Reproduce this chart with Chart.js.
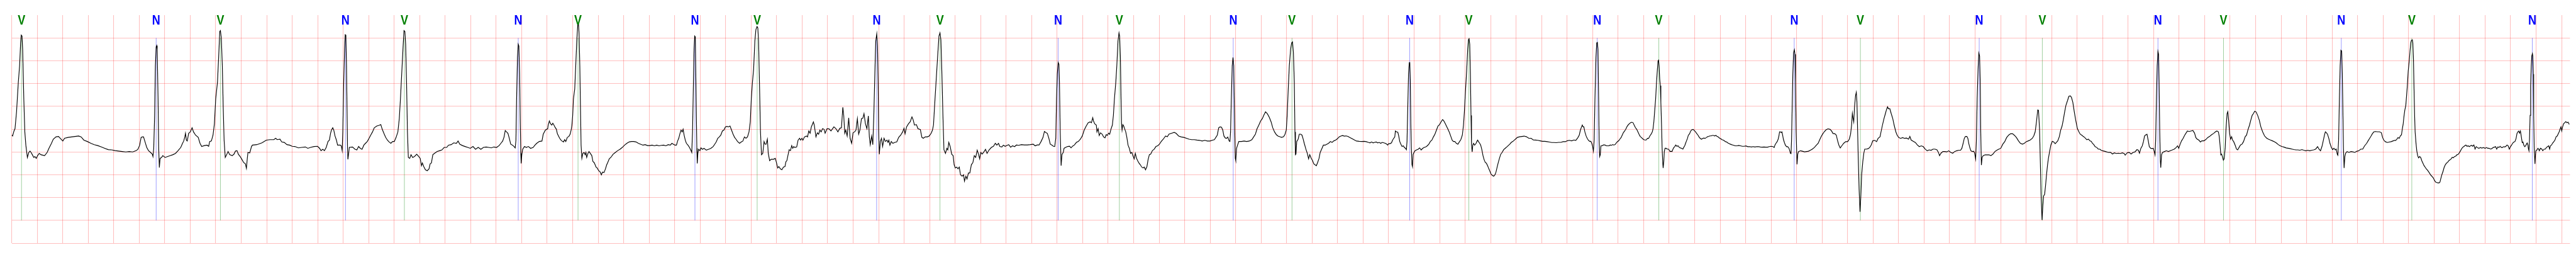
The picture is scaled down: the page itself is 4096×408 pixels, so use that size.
<!DOCTYPE html>
<html>
<head>
<meta charset="utf-8">
<script src="https://cdn.jsdelivr.net/npm/chart.js@4/dist/chart.umd.min.js"></script>
<style>
html,body{margin:0;padding:0;background:#fff;}
#wrap{width:4096px;height:408px;position:relative;}
</style>
</head>
<body>
<div id="wrap"><canvas id="c"></canvas></div>
<script>
// ECG trace, time (s) / amplitude pairs, per segment
const seg00 = [[0.000,-0.13],[0.007,-0.15],[0.018,-0.04],[0.026,0.01],[0.038,0.38],[0.052,1.03],[0.062,1.39],[0.070,1.89],[0.075,2.06],[0.081,2.04],[0.086,1.75],[0.095,0.66],[0.103,-0.06],[0.111,-0.35],[0.123,-0.62],[0.134,-0.51],[0.144,-0.48],[0.152,-0.51],[0.162,-0.56],[0.173,-0.62],[0.182,-0.60],[0.193,-0.64],[0.203,-0.58],[0.216,-0.53],[0.230,-0.56],[0.258,-0.58],[0.278,-0.51],[0.292,-0.42],[0.312,-0.31],[0.326,-0.22],[0.347,-0.17],[0.367,-0.16],[0.381,-0.20],[0.401,-0.26],[0.415,-0.20],[0.442,-0.18],[0.470,-0.17],[0.497,-0.16],[0.525,-0.15],[0.545,-0.17],[0.566,-0.24],[0.593,-0.27],[0.621,-0.31],[0.648,-0.34],[0.675,-0.36],[0.703,-0.39],[0.730,-0.42],[0.758,-0.45],[0.785,-0.455],[0.812,-0.47],[0.840,-0.48],[0.867,-0.49],[0.895,-0.50],[0.922,-0.49],[0.949,-0.50],[0.977,-0.47],[0.990,-0.44],[1.004,-0.35],[1.015,-0.18],[1.025,-0.17],[1.034,-0.17],[1.045,-0.27],[1.059,-0.40],[1.073,-0.47],[1.089,-0.51],[1.103,-0.55],[1.108,-0.60],[1.114,-0.42],[1.121,0.30],[1.127,1.39],[1.133,1.80],[1.137,1.83],[1.141,1.75],[1.148,0.66],[1.153,-0.42],[1.158,-0.84],[1.164,-0.64],[1.175,-0.62],[1.185,-0.58],[1.203,-0.62],[1.223,-0.60],[1.244,-0.58],[1.264,-0.56],[1.285,-0.53],[1.305,-0.47],[1.326,-0.40],[1.340,-0.31],[1.349,-0.26],[1.358,-0.17],[1.363,-0.09],[1.370,-0.24],[1.377,-0.26],[1.388,-0.09],[1.401,-0.06],[1.415,0.03],[1.426,-0.06],[1.442,-0.13],[1.463,-0.18],[1.477,-0.31],[1.490,-0.38],[1.511,-0.36],[1.532,-0.35],[1.545,-0.375],[1.553,-0.27],[1.566,-0.26],[1.579,-0.13],[1.590,0.12],[1.600,0.66],[1.614,1.03],[1.623,1.57],[1.632,2.14],[1.637,2.16],[1.644,2.00],[1.652,1.39],[1.659,0.48],[1.666,-0.24],[1.675,-0.62],[1.686,-0.56],[1.697,-0.49],[1.710,-0.56],[1.730,-0.58],[1.744,-0.545],[1.755,-0.48],[1.767,-0.47],[1.778,-0.55],[1.792,-0.60],[1.805,-0.66],[1.819,-0.73],[1.833,-0.76],[1.841,-0.86],[1.848,-0.64],[1.853,-0.51],[1.867,-0.52],[1.881,-0.38],[1.888,-0.35],[1.922,-0.34],[1.963,-0.30],[1.997,-0.24],[2.025,-0.23],[2.056,-0.23]];
const seg02 = [[2.070,-0.20],[2.083,-0.23],[2.104,-0.22],[2.118,-0.28],[2.138,-0.29],[2.159,-0.34],[2.180,-0.35],[2.200,-0.375],[2.221,-0.38],[2.248,-0.41],[2.275,-0.40],[2.303,-0.39],[2.323,-0.42],[2.344,-0.40],[2.371,-0.38],[2.399,-0.375],[2.415,-0.42],[2.426,-0.47],[2.440,-0.44],[2.453,-0.47],[2.467,-0.40],[2.481,-0.27],[2.492,-0.24],[2.501,-0.09],[2.508,-0.02],[2.518,0.03],[2.526,-0.02],[2.536,-0.15],[2.547,-0.24],[2.556,-0.35],[2.566,-0.35],[2.577,-0.35],[2.585,-0.365],[2.592,-0.47],[2.597,-0.06],[2.604,1.03],[2.611,1.75],[2.616,2.07],[2.621,2.06],[2.626,1.39],[2.630,0.48],[2.634,-0.42],[2.637,-0.66],[2.643,-0.53],[2.648,-0.40],[2.673,-0.39],[2.693,-0.44],[2.707,-0.455],[2.721,-0.38],[2.734,-0.42],[2.748,-0.44],[2.762,-0.35],[2.775,-0.31],[2.789,-0.27],[2.803,-0.20],[2.816,-0.13],[2.830,-0.06],[2.844,0.03],[2.864,0.07],[2.878,0.08],[2.895,0.10],[2.906,0.0],[2.919,-0.09],[2.933,-0.18],[2.947,-0.24],[2.960,-0.28],[2.974,-0.31],[2.988,-0.27],[3.001,-0.27],[3.015,-0.18],[3.029,-0.06],[3.040,0.23],[3.049,0.66],[3.059,1.21],[3.070,1.82],[3.077,2.16],[3.084,2.14],[3.090,1.86],[3.097,1.03],[3.104,-0.06],[3.111,-0.62],[3.122,-0.64],[3.132,-0.56],[3.145,-0.62],[3.159,-0.60],[3.177,-0.55],[3.193,-0.60],[3.204,-0.64],[3.214,-0.80],[3.221,-0.74],[3.232,-0.82],[3.245,-0.89],[3.259,-0.91],[3.273,-0.87],[3.282,-0.76],[3.292,-0.74],[3.303,-0.56],[3.316,-0.53],[3.337,-0.49],[3.358,-0.47],[3.374,-0.455],[3.392,-0.40],[3.412,-0.40],[3.426,-0.35],[3.447,-0.34],[3.467,-0.30],[3.488,-0.31],[3.501,-0.26],[3.515,-0.33],[3.536,-0.36],[3.556,-0.38],[3.577,-0.40],[3.597,-0.42],[3.618,-0.38],[3.638,-0.44],[3.659,-0.40],[3.680,-0.44],[3.700,-0.40],[3.721,-0.39],[3.741,-0.40],[3.762,-0.41],[3.782,-0.39],[3.803,-0.40],[3.823,-0.36],[3.837,-0.31],[3.851,-0.26],[3.862,-0.17],[3.871,-0.03],[3.881,-0.06],[3.892,-0.09],[3.903,-0.20],[3.914,-0.33],[3.928,-0.35],[3.940,-0.38],[3.949,-0.41],[3.955,-0.24],[3.960,0.66],[3.967,1.57],[3.973,1.86],[3.978,1.82],[3.984,1.21],[3.989,0.12],[3.993,-0.53],[3.996,-0.75],[4.001,-0.56],[4.008,-0.44],[4.022,-0.38],[4.036,-0.40],[4.053,-0.38],[4.070,-0.42],[4.090,-0.40],[4.104,-0.35],[4.118,-0.31],[4.138,-0.27],[4.159,-0.26],[4.169,-0.11],[4.186,-0.02],[4.204,0.01]];
const seg04 = [[4.208,0.09],[4.217,0.18],[4.226,0.12],[4.236,0.09],[4.244,0.13],[4.253,0.09],[4.262,0.04],[4.272,0.0],[4.280,-0.10],[4.289,-0.15],[4.298,-0.20],[4.308,-0.24],[4.316,-0.26],[4.328,-0.28],[4.337,-0.23],[4.346,-0.27],[4.358,-0.18],[4.370,-0.16],[4.380,-0.11],[4.388,-0.02],[4.394,0.09],[4.400,0.30],[4.406,0.66],[4.416,0.88],[4.424,1.39],[4.432,1.93],[4.440,2.29],[4.446,2.29],[4.450,2.11],[4.456,1.39],[4.461,0.48],[4.466,-0.35],[4.472,-0.64],[4.480,-0.53],[4.490,-0.51],[4.498,-0.56],[4.504,-0.51],[4.510,-0.62],[4.520,-0.53],[4.528,-0.49],[4.538,-0.53],[4.550,-0.58],[4.559,-0.71],[4.568,-0.73],[4.576,-0.78],[4.583,-0.83],[4.592,-0.85],[4.604,-0.91],[4.616,-0.94],[4.625,-1.00],[4.634,-0.94],[4.646,-0.95],[4.657,-0.87],[4.667,-0.78],[4.675,-0.73],[4.687,-0.65],[4.699,-0.62],[4.717,-0.55],[4.735,-0.51],[4.753,-0.47],[4.771,-0.44],[4.789,-0.40],[4.807,-0.35],[4.825,-0.31],[4.843,-0.28],[4.861,-0.27],[4.879,-0.27],[4.897,-0.28],[4.915,-0.31],[4.933,-0.33],[4.951,-0.35],[4.969,-0.34],[4.987,-0.36],[5.005,-0.36],[5.023,-0.35],[5.041,-0.365],[5.059,-0.35],[5.077,-0.365],[5.095,-0.355],[5.113,-0.35],[5.131,-0.365],[5.149,-0.34],[5.166,-0.35],[5.178,-0.31],[5.190,-0.33],[5.202,-0.35],[5.214,-0.35],[5.223,-0.26],[5.232,-0.20],[5.242,-0.09],[5.250,-0.02],[5.259,-0.06],[5.266,0.0],[5.274,-0.13],[5.283,-0.24],[5.292,-0.31],[5.304,-0.35],[5.316,-0.40],[5.328,-0.47],[5.334,-0.51],[5.340,-0.06],[5.346,0.85],[5.352,1.75],[5.357,2.04],[5.362,2.02],[5.365,1.39],[5.370,0.30],[5.374,-0.42],[5.377,-0.75],[5.382,-0.53],[5.388,-0.44],[5.398,-0.47],[5.406,-0.41],[5.418,-0.44],[5.430,-0.42],[5.448,-0.46],[5.466,-0.44],[5.484,-0.42],[5.502,-0.38],[5.514,-0.33],[5.526,-0.28],[5.538,-0.20],[5.550,-0.17],[5.562,-0.13],[5.574,-0.04],[5.586,-0.02],[5.598,0.05],[5.610,0.06],[5.622,0.05],[5.634,0.07],[5.646,-0.02],[5.658,-0.11],[5.670,-0.18],[5.681,-0.22],[5.693,-0.27],[5.709,-0.31],[5.723,-0.28],[5.735,-0.26],[5.747,-0.17],[5.759,-0.20],[5.771,-0.17],[5.783,-0.06],[5.793,0.16],[5.801,0.66],[5.810,1.03],[5.819,1.31],[5.829,1.93],[5.837,2.18],[5.846,2.25],[5.852,2.22],[5.858,1.93],[5.865,1.03],[5.873,-0.06],[5.881,-0.56],[5.891,-0.53],[5.901,-0.27],[5.909,-0.33],[5.917,-0.33],[5.927,-0.22],[5.934,-0.53],[5.945,-0.69],[5.957,-0.66],[5.975,-0.66],[5.989,-0.64],[5.999,-0.74],[6.008,-0.85],[6.017,-0.82],[6.029,-0.87],[6.041,-0.89],[6.053,-0.83],[6.065,-0.82],[6.073,-0.71],[6.080,-0.69]];
const seg06 = [[6.088,-0.58],[6.098,-0.45],[6.108,-0.47],[6.118,-0.36],[6.126,-0.42],[6.134,-0.38],[6.141,-0.40],[6.157,-0.39],[6.168,-0.24],[6.180,-0.20],[6.188,-0.24],[6.198,-0.20],[6.206,-0.24],[6.218,-0.17],[6.234,-0.15],[6.242,-0.17],[6.252,-0.04],[6.262,-0.09],[6.272,0.05],[6.288,0.16],[6.295,0.09],[6.308,-0.17],[6.319,-0.08],[6.329,-0.11],[6.339,-0.02],[6.349,-0.06],[6.360,0.01],[6.372,-0.004],[6.380,-0.09],[6.395,0.01],[6.411,0.007],[6.426,-0.04],[6.449,0.05],[6.465,0.01],[6.480,-0.06],[6.496,0.02],[6.508,0.03],[6.519,0.48],[6.526,0.30],[6.534,-0.09],[6.542,-0.02],[6.553,-0.15],[6.565,0.25],[6.576,-0.20],[6.588,-0.31],[6.599,-0.08],[6.611,-0.06],[6.622,-0.02],[6.633,0.23],[6.643,-0.11],[6.653,-0.02],[6.665,0.23],[6.676,0.24],[6.685,0.34],[6.696,0.12],[6.708,0.01],[6.719,0.29],[6.727,-0.17],[6.734,-0.34],[6.745,-0.15],[6.754,-0.34],[6.762,0.30],[6.770,1.21],[6.777,1.93],[6.785,2.09],[6.791,1.82],[6.796,1.03],[6.800,-0.06],[6.805,-0.55],[6.813,-0.27],[6.822,-0.20],[6.831,-0.38],[6.842,-0.20],[6.853,-0.27],[6.865,-0.24],[6.873,-0.29],[6.880,-0.24],[6.888,-0.35],[6.899,-0.27],[6.911,-0.31],[6.927,-0.29],[6.942,-0.28],[6.957,-0.18],[6.973,-0.13],[6.988,-0.06],[6.999,0.02],[7.007,-0.10],[7.019,0.05],[7.034,0.12],[7.047,0.16],[7.061,0.27],[7.070,0.21],[7.081,0.09],[7.096,0.10],[7.108,0.01],[7.127,-0.01],[7.139,-0.18],[7.150,-0.20],[7.165,-0.17],[7.181,-0.17],[7.196,-0.15],[7.212,-0.09],[7.222,-0.02],[7.230,0.09],[7.238,0.48],[7.250,1.03],[7.262,1.57],[7.273,2.04],[7.281,2.11],[7.288,1.96],[7.296,1.21],[7.304,0.30],[7.312,-0.45],[7.324,-0.53],[7.335,-0.42],[7.342,-0.455],[7.350,-0.29],[7.361,-0.38],[7.373,-0.55],[7.384,-0.58],[7.392,-0.78],[7.401,-0.85],[7.412,-0.83],[7.422,-0.87],[7.432,-0.83],[7.442,-1.00],[7.455,-1.03],[7.466,-1.00],[7.473,-1.14],[7.484,-1.03],[7.493,-1.09],[7.504,-0.96],[7.515,-0.96],[7.527,-0.78],[7.539,-0.73],[7.550,-0.58],[7.561,-0.62],[7.573,-0.46],[7.583,-0.545],[7.592,-0.65],[7.601,-0.51],[7.612,-0.545],[7.627,-0.49],[7.638,-0.44],[7.650,-0.53],[7.666,-0.455],[7.684,-0.40],[7.700,-0.375],[7.715,-0.31],[7.727,-0.35],[7.740,-0.31],[7.750,-0.38],[7.766,-0.39],[7.778,-0.35],[7.792,-0.375],[7.807,-0.355],[7.820,-0.34],[7.835,-0.394],[7.850,-0.365],[7.866,-0.383],[7.881,-0.347],[7.897,-0.354],[7.920,-0.34],[7.943,-0.347],[7.966,-0.347],[7.989,-0.34],[8.012,-0.33],[8.028,-0.365],[8.043,-0.347],[8.058,-0.347],[8.074,-0.27],[8.089,-0.18],[8.100,-0.05],[8.112,-0.076],[8.123,-0.094],[8.135,-0.20],[8.146,-0.33],[8.158,-0.347],[8.171,-0.375],[8.181,-0.38],[8.189,-0.20],[8.195,0.66],[8.201,1.21],[8.208,1.46],[8.214,1.42],[8.218,1.03],[8.224,-0.06],[8.231,-0.80],[8.238,-0.55],[8.248,-0.51],[8.254,-0.42],[8.266,-0.40],[8.282,-0.38],[8.297,-0.375],[8.309,-0.41],[8.320,-0.375],[8.335,-0.347],[8.351,-0.29],[8.366,-0.27],[8.382,-0.22],[8.397,-0.15],[8.412,-0.02],[8.428,0.07],[8.443,0.14],[8.459,0.16],[8.469,0.14],[8.479,0.25],[8.485,0.18],[8.494,0.12]];
const seg08 = [[8.507,0.09],[8.512,-0.06],[8.521,0.01],[8.530,-0.14],[8.540,-0.08],[8.553,-0.11],[8.564,-0.17],[8.575,-0.19],[8.585,-0.12],[8.594,-0.137],[8.603,-0.087],[8.612,-0.112],[8.622,0.0],[8.633,0.09],[8.641,0.30],[8.649,0.66],[8.660,1.03],[8.668,1.39],[8.677,1.93],[8.685,2.11],[8.690,2.04],[8.696,1.57],[8.701,0.66],[8.705,0.12],[8.709,-0.02],[8.715,0.10],[8.722,0.07],[8.729,0.01],[8.738,-0.06],[8.746,-0.17],[8.756,-0.35],[8.766,-0.42],[8.776,-0.53],[8.786,-0.51],[8.794,-0.58],[8.804,-0.65],[8.813,-0.53],[8.822,-0.635],[8.831,-0.69],[8.841,-0.74],[8.852,-0.78],[8.863,-0.83],[8.874,-0.85],[8.883,-0.83],[8.893,-0.89],[8.904,-0.82],[8.913,-0.67],[8.923,-0.56],[8.934,-0.545],[8.947,-0.47],[8.961,-0.44],[8.975,-0.38],[8.988,-0.365],[9.002,-0.33],[9.016,-0.27],[9.032,-0.22],[9.050,-0.15],[9.064,-0.166],[9.077,-0.11],[9.098,-0.09],[9.118,-0.07],[9.132,-0.09],[9.153,-0.15],[9.173,-0.17],[9.194,-0.18],[9.214,-0.20],[9.235,-0.22],[9.255,-0.23],[9.276,-0.23],[9.296,-0.24],[9.317,-0.245],[9.337,-0.26],[9.358,-0.245],[9.378,-0.26],[9.399,-0.26],[9.419,-0.24],[9.433,-0.23],[9.447,-0.17],[9.456,-0.13],[9.467,0.03],[9.478,0.05],[9.489,0.043],[9.499,-0.02],[9.508,-0.15],[9.519,-0.195],[9.529,-0.20],[9.538,-0.173],[9.549,-0.26],[9.555,-0.27],[9.560,-0.06],[9.566,0.66],[9.573,1.39],[9.579,1.57],[9.585,1.39],[9.589,0.66],[9.593,-0.06],[9.597,-0.64],[9.601,-0.69],[9.607,-0.42],[9.615,-0.35],[9.625,-0.27],[9.645,-0.27],[9.666,-0.26],[9.686,-0.27],[9.707,-0.26],[9.727,-0.23],[9.741,-0.17],[9.755,-0.11],[9.768,0.01],[9.782,0.09],[9.796,0.18],[9.809,0.23],[9.820,0.30],[9.834,0.38],[9.848,0.34],[9.864,0.26],[9.878,0.16],[9.891,0.03],[9.905,-0.06],[9.919,-0.12],[9.932,-0.15],[9.946,-0.166],[9.960,-0.18],[9.976,-0.166],[9.987,-0.112],[9.997,-0.02],[10.004,0.30],[10.012,0.85],[10.021,1.39],[10.031,1.75],[10.039,1.89],[10.046,1.91],[10.053,1.68],[10.060,1.03],[10.065,-0.06],[10.069,-0.56],[10.073,-0.545],[10.079,-0.27],[10.090,-0.22],[10.099,-0.11],[10.110,-0.11],[10.120,-0.13],[10.128,-0.20],[10.138,-0.31],[10.151,-0.44],[10.162,-0.53],[10.172,-0.65],[10.181,-0.56],[10.192,-0.635],[10.203,-0.69],[10.213,-0.76],[10.222,-0.78],[10.233,-0.80],[10.243,-0.73],[10.254,-0.64],[10.263,-0.51],[10.274,-0.44],[10.288,-0.35],[10.302,-0.35],[10.315,-0.33],[10.329,-0.31],[10.343,-0.27],[10.356,-0.29],[10.370,-0.256],[10.384,-0.24],[10.398,-0.21],[10.411,-0.17],[10.425,-0.15],[10.439,-0.14],[10.452,-0.152],[10.466,-0.148],[10.480,-0.159],[10.493,-0.18],[10.507,-0.20],[10.521,-0.22],[10.534,-0.24],[10.548,-0.26],[10.569,-0.267],[10.589,-0.27],[10.610,-0.267],[10.623,-0.274],[10.641,-0.29]];
const seg10 = [[10.654,-0.30],[10.666,-0.28],[10.678,-0.30],[10.690,-0.29],[10.702,-0.28],[10.714,-0.30],[10.726,-0.29],[10.738,-0.31],[10.750,-0.29],[10.762,-0.30],[10.774,-0.31],[10.786,-0.33],[10.792,-0.35],[10.800,-0.318],[10.810,-0.318],[10.822,-0.30],[10.831,-0.24],[10.840,-0.20],[10.848,-0.17],[10.853,-0.04],[10.860,-0.058],[10.872,-0.069],[10.879,-0.15],[10.887,-0.27],[10.896,-0.33],[10.905,-0.38],[10.915,-0.365],[10.923,-0.40],[10.932,-0.42],[10.939,-0.45],[10.944,-0.27],[10.950,0.48],[10.956,1.21],[10.962,1.46],[10.966,1.46],[10.970,1.03],[10.974,0.12],[10.978,-0.42],[10.983,-0.78],[10.987,-0.82],[10.992,-0.55],[10.999,-0.51],[11.007,-0.47],[11.019,-0.455],[11.031,-0.44],[11.043,-0.41],[11.055,-0.455],[11.067,-0.42],[11.079,-0.40],[11.091,-0.39],[11.103,-0.365],[11.115,-0.33],[11.127,-0.27],[11.139,-0.24],[11.151,-0.17],[11.163,-0.11],[11.175,-0.02],[11.187,0.07],[11.199,0.10],[11.211,0.16],[11.223,0.21],[11.231,0.188],[11.241,0.14],[11.253,0.07],[11.265,0.0],[11.277,-0.076],[11.289,-0.17],[11.298,-0.24],[11.308,-0.27],[11.319,-0.27],[11.331,-0.31],[11.343,-0.33],[11.354,-0.28],[11.366,-0.23],[11.378,-0.13],[11.387,0.09],[11.394,0.38],[11.402,0.81],[11.412,1.28],[11.420,1.75],[11.426,1.96],[11.431,1.98],[11.436,1.86],[11.441,1.21],[11.446,0.30],[11.450,-0.35],[11.455,-0.50],[11.460,-0.35],[11.466,-0.31],[11.474,-0.35],[11.486,-0.31],[11.492,-0.27],[11.498,-0.24],[11.504,-0.27],[11.514,-0.31],[11.522,-0.35],[11.531,-0.45],[11.540,-0.58],[11.549,-0.67],[11.558,-0.73],[11.566,-0.744],[11.576,-0.80],[11.586,-0.87],[11.594,-0.92],[11.602,-0.98],[11.612,-1.01],[11.624,-1.03],[11.634,-1.00],[11.642,-0.94],[11.652,-0.82],[11.660,-0.73],[11.669,-0.64],[11.679,-0.55],[11.690,-0.51],[11.702,-0.45],[11.714,-0.42],[11.726,-0.39],[11.738,-0.36],[11.750,-0.33],[11.762,-0.29],[11.774,-0.27],[11.786,-0.24],[11.798,-0.21],[11.810,-0.18],[11.828,-0.166],[11.846,-0.159],[11.863,-0.152],[11.881,-0.166],[11.899,-0.20],[11.917,-0.20],[11.935,-0.238],[11.953,-0.24],[11.971,-0.245],[11.989,-0.256],[12.007,-0.267],[12.025,-0.267],[12.043,-0.274],[12.061,-0.282],[12.079,-0.292],[12.097,-0.292],[12.115,-0.296],[12.133,-0.289],[12.151,-0.289],[12.169,-0.274],[12.187,-0.274],[12.199,-0.256],[12.217,-0.245],[12.235,-0.256],[12.253,-0.238],[12.268,-0.245],[12.283,-0.19],[12.295,-0.13],[12.304,-0.02],[12.313,0.05],[12.319,0.09],[12.325,0.05],[12.331,0.05],[12.339,-0.06],[12.349,-0.15],[12.357,-0.20],[12.366,-0.24],[12.376,-0.267],[12.386,-0.267],[12.393,-0.31],[12.400,-0.38],[12.406,-0.48],[12.412,-0.24],[12.418,0.66],[12.426,1.57],[12.432,1.89],[12.437,1.90],[12.442,1.75],[12.447,0.66],[12.451,-0.24],[12.455,-0.60],[12.460,-0.56],[12.465,-0.365],[12.474,-0.365],[12.484,-0.347],[12.496,-0.347],[12.508,-0.365],[12.520,-0.365]];
const seg12 = [[12.528,-0.365],[12.538,-0.347],[12.547,-0.354],[12.557,-0.339],[12.566,-0.347],[12.576,-0.339],[12.585,-0.303],[12.594,-0.274],[12.604,-0.256],[12.613,-0.22],[12.623,-0.184],[12.632,-0.13],[12.641,-0.076],[12.651,-0.04],[12.660,0.0],[12.670,0.058],[12.679,0.094],[12.689,0.123],[12.698,0.141],[12.707,0.152],[12.717,0.141],[12.726,0.087],[12.736,0.032],[12.745,0.0],[12.755,-0.058],[12.764,-0.112],[12.773,-0.159],[12.783,-0.184],[12.792,-0.209],[12.802,-0.231],[12.811,-0.238],[12.820,-0.238],[12.830,-0.202],[12.839,-0.202],[12.849,-0.148],[12.858,-0.112],[12.868,-0.058],[12.874,0.014],[12.880,0.159],[12.886,0.375],[12.894,0.664],[12.901,1.025],[12.908,1.314],[12.913,1.495],[12.917,1.513],[12.921,1.386],[12.926,1.097],[12.931,0.953],[12.935,0.592],[12.940,0.123],[12.945,-0.419],[12.950,-0.744],[12.953,-0.852],[12.958,-0.708],[12.962,-0.491],[12.968,-0.419],[12.976,-0.419],[12.985,-0.437],[12.995,-0.437],[13.001,-0.462],[13.007,-0.491],[13.014,-0.484],[13.023,-0.491],[13.030,-0.437],[13.037,-0.401],[13.044,-0.383],[13.051,-0.347],[13.061,-0.375],[13.070,-0.365],[13.080,-0.401],[13.089,-0.412],[13.098,-0.419],[13.108,-0.437],[13.114,-0.401],[13.122,-0.365],[13.129,-0.31],[13.136,-0.256],[13.144,-0.202],[13.150,-0.137],[13.160,-0.101],[13.169,-0.04],[13.178,-0.014],[13.188,-0.004],[13.197,-0.029],[13.207,-0.058],[13.216,-0.094],[13.226,-0.13],[13.235,-0.173],[13.244,-0.202],[13.254,-0.22],[13.263,-0.202],[13.273,-0.195],[13.282,-0.202],[13.292,-0.184],[13.301,-0.166],[13.310,-0.159],[13.320,-0.148],[13.329,-0.148],[13.339,-0.137],[13.348,-0.137],[13.357,-0.148],[13.367,-0.137],[13.376,-0.159],[13.386,-0.173],[13.395,-0.195],[13.405,-0.209],[13.414,-0.231],[13.423,-0.238],[13.433,-0.256],[13.442,-0.274],[13.452,-0.282],[13.461,-0.303],[13.471,-0.318],[13.480,-0.329],[13.489,-0.339],[13.499,-0.347],[13.508,-0.354],[13.518,-0.365],[13.532,-0.365],[13.546,-0.357],[13.560,-0.365],[13.574,-0.375],[13.588,-0.375],[13.602,-0.368],[13.617,-0.383],[13.631,-0.383],[13.645,-0.39],[13.659,-0.383],[13.673,-0.39],[13.687,-0.383],[13.701,-0.383],[13.715,-0.39],[13.730,-0.394],[13.744,-0.39],[13.758,-0.394],[13.772,-0.394],[13.786,-0.383],[13.800,-0.375],[13.814,-0.383],[13.824,-0.401],[13.830,-0.347],[13.838,-0.31],[13.847,-0.274],[13.855,-0.22],[13.861,-0.148],[13.866,-0.058],[13.873,-0.058],[13.878,-0.076],[13.885,-0.058],[13.890,-0.13],[13.896,-0.22],[13.904,-0.292],[13.911,-0.347],[13.921,-0.383],[13.930,-0.383],[13.940,-0.419],[13.946,-0.473],[13.951,-0.527],[13.956,-0.534],[13.960,-0.238],[13.965,0.484],[13.970,1.206],[13.976,1.675],[13.982,1.74],[13.987,1.639],[13.991,1.025],[13.996,-0.058]];
const seg14 = [[14.003,-0.77],[14.009,-0.545],[14.015,-0.491],[14.031,-0.473],[14.046,-0.484],[14.062,-0.498],[14.077,-0.491],[14.092,-0.484],[14.108,-0.462],[14.123,-0.437],[14.139,-0.401],[14.154,-0.354],[14.169,-0.31],[14.180,-0.238],[14.192,-0.166],[14.203,-0.112],[14.216,-0.058],[14.231,-0.014],[14.246,0.007],[14.262,-0.004],[14.274,-0.04],[14.285,-0.094],[14.300,-0.101],[14.311,-0.13],[14.320,-0.238],[14.331,-0.347],[14.342,-0.412],[14.354,-0.365],[14.369,-0.31],[14.385,-0.274],[14.400,-0.274],[14.413,-0.22],[14.423,-0.112],[14.431,0.087],[14.437,0.347],[14.443,0.231],[14.448,0.159],[14.454,0.484],[14.462,0.736],[14.468,0.809],[14.473,0.592],[14.477,0.123],[14.483,-0.599],[14.490,-1.321],[14.497,-1.809],[14.503,-1.502],[14.510,-0.996],[14.519,-0.708],[14.527,-0.527],[14.534,-0.437],[14.547,-0.437],[14.562,-0.426],[14.573,-0.401],[14.585,-0.347],[14.597,-0.256],[14.613,-0.245],[14.627,-0.274],[14.639,-0.202],[14.654,-0.166],[14.662,-0.058],[14.673,0.087],[14.685,0.231],[14.696,0.339],[14.705,0.43],[14.713,0.491],[14.720,0.448],[14.731,0.448],[14.742,0.339],[14.754,0.231],[14.765,0.087],[14.778,-0.058],[14.788,-0.13],[14.801,-0.184],[14.816,-0.202],[14.831,-0.184],[14.847,-0.202],[14.862,-0.195],[14.878,-0.22],[14.888,-0.159],[14.898,-0.238],[14.916,-0.267],[14.931,-0.292],[14.947,-0.347],[14.962,-0.383],[14.978,-0.365],[14.993,-0.383],[15.008,-0.437],[15.024,-0.473],[15.039,-0.455],[15.055,-0.462],[15.070,-0.437],[15.085,-0.437],[15.101,-0.455],[15.112,-0.509],[15.121,-0.581],[15.132,-0.527],[15.147,-0.491],[15.162,-0.491],[15.178,-0.498],[15.193,-0.473],[15.209,-0.509],[15.224,-0.527],[15.239,-0.491],[15.255,-0.473],[15.270,-0.462],[15.286,-0.462],[15.296,-0.419],[15.306,-0.31],[15.315,-0.202],[15.324,-0.159],[15.335,-0.159],[15.343,-0.202],[15.350,-0.31],[15.358,-0.401],[15.367,-0.473],[15.378,-0.491],[15.389,-0.484],[15.396,-0.527],[15.404,-0.653],[15.410,-0.238],[15.416,0.664],[15.423,1.314],[15.429,1.668],[15.435,1.603],[15.440,1.025],[15.444,-0.058],[15.449,-0.787],[15.455,-0.617],[15.463,-0.581],[15.478,-0.563],[15.493,-0.563],[15.509,-0.563],[15.524,-0.581],[15.540,-0.545],[15.555,-0.491],[15.570,-0.462],[15.586,-0.437],[15.601,-0.419],[15.617,-0.329],[15.632,-0.274],[15.647,-0.184],[15.663,-0.13],[15.678,-0.101],[15.694,-0.101],[15.709,-0.137],[15.724,-0.184],[15.740,-0.256],[15.755,-0.31],[15.771,-0.329],[15.786,-0.31],[15.801,-0.274],[15.817,-0.256],[15.832,-0.238],[15.848,-0.202],[15.860,-0.148],[15.871,-0.058],[15.881,0.159],[15.891,0.419],[15.897,0.412],[15.905,0.014],[15.912,-0.78],[15.918,-1.502],[15.925,-1.989],[15.931,-1.682],[15.937,-1.466],[15.945,-1.43],[15.952,-1.249],[15.960,-0.996],[15.968,-0.78],[15.975,-0.635],[15.983,-0.509],[15.994,-0.347],[16.005,-0.267],[16.017,-0.282],[16.028,-0.318],[16.037,-0.292],[16.048,-0.256],[16.060,-0.166],[16.071,-0.022],[16.082,0.069],[16.091,0.195],[16.102,0.375],[16.112,0.52],[16.125,0.628],[16.135,0.718],[16.146,0.729],[16.155,0.7],[16.166,0.592],[16.178,0.375],[16.189,0.195],[16.202,0.014],[16.214,-0.058],[16.225,-0.112],[16.236,-0.13],[16.248,-0.159],[16.260,-0.184],[16.276,-0.231]];
const seg16 = [[16.289,-0.22],[16.300,-0.256],[16.311,-0.267],[16.320,-0.31],[16.331,-0.339],[16.341,-0.383],[16.354,-0.401],[16.366,-0.437],[16.377,-0.437],[16.388,-0.462],[16.400,-0.473],[16.415,-0.484],[16.431,-0.498],[16.446,-0.509],[16.462,-0.509],[16.477,-0.545],[16.492,-0.52],[16.508,-0.534],[16.523,-0.527],[16.539,-0.534],[16.554,-0.52],[16.569,-0.534],[16.577,-0.57],[16.592,-0.52],[16.608,-0.509],[16.623,-0.545],[16.639,-0.509],[16.654,-0.498],[16.669,-0.448],[16.680,-0.462],[16.689,-0.527],[16.700,-0.419],[16.711,-0.365],[16.720,-0.274],[16.729,-0.148],[16.739,-0.123],[16.748,-0.112],[16.757,-0.238],[16.766,-0.383],[16.777,-0.419],[16.788,-0.426],[16.797,-0.419],[16.805,-0.491],[16.811,-0.563],[16.816,-0.238],[16.822,0.664],[16.828,1.386],[16.834,1.704],[16.839,1.639],[16.843,1.025],[16.848,-0.058],[16.853,-0.708],[16.856,-0.845],[16.862,-0.563],[16.870,-0.509],[16.885,-0.491],[16.900,-0.473],[16.916,-0.491],[16.931,-0.473],[16.947,-0.455],[16.962,-0.437],[16.977,-0.401],[16.988,-0.365],[16.997,-0.419],[17.008,-0.329],[17.019,-0.256],[17.031,-0.202],[17.044,-0.13],[17.054,-0.087],[17.065,-0.04],[17.077,-0.051],[17.093,-0.04],[17.108,-0.029],[17.121,-0.087],[17.131,-0.184],[17.142,-0.22],[17.154,-0.238],[17.167,-0.282],[17.178,-0.256],[17.193,-0.256],[17.208,-0.231],[17.224,-0.184],[17.239,-0.159],[17.254,-0.123],[17.270,-0.094],[17.285,-0.058],[17.296,-0.04],[17.308,-0.058],[17.315,-0.166],[17.321,-0.347],[17.327,-0.563],[17.333,-0.545],[17.339,-0.599],[17.347,-0.679],[17.353,-0.653],[17.361,-0.419],[17.368,0.014],[17.376,0.339],[17.382,0.383],[17.388,0.195],[17.396,-0.094],[17.404,-0.22],[17.412,-0.166],[17.419,-0.238],[17.428,-0.274],[17.439,-0.347],[17.450,-0.437],[17.459,-0.455],[17.470,-0.401],[17.481,-0.347],[17.493,-0.329],[17.505,-0.274],[17.518,-0.166],[17.529,-0.13],[17.539,-0.022],[17.552,0.087],[17.562,0.195],[17.573,0.303],[17.582,0.339],[17.593,0.394],[17.604,0.375],[17.616,0.303],[17.629,0.195],[17.641,0.051],[17.655,-0.058],[17.670,-0.148],[17.686,-0.195],[17.701,-0.22],[17.716,-0.238],[17.732,-0.256],[17.747,-0.274],[17.763,-0.303],[17.778,-0.339],[17.793,-0.365],[17.809,-0.383],[17.824,-0.394],[17.840,-0.412],[17.855,-0.419],[17.870,-0.426],[17.886,-0.437],[17.901,-0.448],[17.917,-0.455],[17.932,-0.455],[17.947,-0.462],[17.963,-0.448],[17.978,-0.462],[17.994,-0.473],[18.009,-0.462],[18.024,-0.473],[18.040,-0.462],[18.055,-0.455],[18.071,-0.437],[18.086,-0.383],[18.097,-0.437],[18.109,-0.473],[18.120,-0.383],[18.129,-0.274],[18.140,-0.13],[18.147,-0.058],[18.155,-0.076],[18.164,-0.112],[18.174,-0.202],[18.183,-0.31],[18.194,-0.401],[18.204,-0.448],[18.214,-0.419],[18.225,-0.455],[18.232,-0.437],[18.240,-0.545],[18.245,-0.57],[18.251,-0.238],[18.257,0.664],[18.263,1.386],[18.269,1.729],[18.275,1.711],[18.280,1.206],[18.285,0.303],[18.289,-0.419],[18.294,-0.852],[18.300,-0.599],[18.306,-0.527],[18.317,-0.491],[18.332,-0.509],[18.348,-0.491],[18.363,-0.498],[18.378,-0.509],[18.394,-0.484],[18.409,-0.473],[18.425,-0.437],[18.440,-0.437],[18.455,-0.365],[18.471,-0.31],[18.482,-0.256],[18.494,-0.202],[18.506,-0.148],[18.517,-0.094],[18.528,-0.058],[18.540,-0.051],[18.556,-0.058],[18.571,-0.058],[18.586,-0.076],[18.596,-0.184],[18.605,-0.238],[18.617,-0.274],[18.633,-0.292],[18.648,-0.282],[18.663,-0.274],[18.679,-0.256],[18.691,-0.245]];
const seg18 = [[18.699,-0.245],[18.708,-0.22],[18.717,-0.184],[18.726,-0.202],[18.735,-0.148],[18.744,-0.123],[18.751,0.014],[18.757,0.105],[18.763,0.267],[18.770,0.412],[18.778,0.52],[18.784,0.736],[18.790,0.953],[18.797,1.278],[18.805,1.495],[18.811,1.711],[18.817,1.892],[18.822,1.946],[18.829,1.957],[18.833,1.892],[18.838,1.531],[18.842,0.953],[18.847,0.303],[18.851,-0.058],[18.858,-0.31],[18.864,-0.473],[18.871,-0.581],[18.878,-0.628],[18.887,-0.599],[18.896,-0.628],[18.903,-0.69],[18.912,-0.744],[18.921,-0.798],[18.930,-0.834],[18.939,-0.87],[18.950,-0.906],[18.959,-0.942],[18.967,-0.978],[18.976,-1.014],[18.985,-1.04],[18.994,-1.069],[19.003,-1.123],[19.012,-1.159],[19.021,-1.17],[19.030,-1.177],[19.039,-1.177],[19.046,-1.159],[19.052,-1.087],[19.061,-0.996],[19.070,-0.924],[19.079,-0.834],[19.088,-0.78],[19.097,-0.744],[19.106,-0.726],[19.115,-0.69],[19.124,-0.671],[19.133,-0.653],[19.142,-0.617],[19.151,-0.628],[19.160,-0.599],[19.169,-0.592],[19.178,-0.563],[19.187,-0.556],[19.196,-0.527],[19.205,-0.484],[19.214,-0.437],[19.223,-0.401],[19.232,-0.383],[19.240,-0.365],[19.249,-0.347],[19.258,-0.375],[19.267,-0.365],[19.276,-0.383],[19.285,-0.365],[19.294,-0.354],[19.303,-0.375],[19.312,-0.347],[19.321,-0.437],[19.330,-0.383],[19.339,-0.401],[19.348,-0.419],[19.357,-0.412],[19.366,-0.401],[19.375,-0.419],[19.384,-0.401],[19.393,-0.412],[19.402,-0.419],[19.411,-0.401],[19.420,-0.419],[19.429,-0.419],[19.437,-0.426],[19.446,-0.437],[19.455,-0.419],[19.464,-0.401],[19.473,-0.394],[19.482,-0.383],[19.491,-0.437],[19.500,-0.39],[19.509,-0.401],[19.518,-0.375],[19.527,-0.401],[19.536,-0.401],[19.545,-0.383],[19.554,-0.39],[19.563,-0.375],[19.572,-0.347],[19.581,-0.365],[19.590,-0.437],[19.599,-0.383],[19.608,-0.347],[19.617,-0.303],[19.626,-0.282],[19.635,-0.267],[19.643,-0.202],[19.650,-0.094],[19.657,-0.058],[19.664,-0.04],[19.670,-0.087],[19.677,-0.04],[19.684,-0.166],[19.691,-0.292],[19.697,-0.282],[19.703,-0.347],[19.711,-0.383],[19.718,-0.365],[19.724,-0.329],[19.730,-0.303],[19.736,-0.347],[19.739,-0.419],[19.744,-0.473],[19.748,-0.238],[19.753,0.303],[19.757,0.953],[19.762,1.386],[19.766,1.603],[19.771,1.657],[19.774,1.603],[19.778,1.206],[19.781,0.303],[19.785,-0.419],[19.789,-0.643],[19.791,-0.762],[19.795,-0.563],[19.798,-0.473],[19.805,-0.462],[19.814,-0.419],[19.820,-0.437],[19.825,-0.473],[19.834,-0.419],[19.845,-0.437],[19.852,-0.473],[19.863,-0.437],[19.872,-0.437],[19.881,-0.401],[19.890,-0.383],[19.899,-0.365],[19.906,-0.437],[19.912,-0.365],[19.921,-0.347],[19.930,-0.303],[19.939,-0.274],[19.948,-0.238],[19.957,-0.166],[19.966,-0.148],[19.975,-0.094],[19.981,-0.058],[19.988,0.0],[19.995,0.05],[20.001,-0.04],[20.008,0.051],[20.015,0.116],[20.024,0.141],[20.033,0.166],[20.042,0.141],[20.051,0.152],[20.060,0.105]];

// Beat annotations
const annTimes  = [0.077,1.133,1.637,2.618,3.080,3.973,4.442,5.359,5.847,6.784,7.281,8.208,8.688,9.581,10.042,10.965,11.429,12.436,12.919,13.981,14.500,15.432,15.927,16.834,17.348,18.272,18.825,19.770];
const annLabels = ['V','N','V','N','V','N','V','N','V','N','V','N','V','N','V','N','V','N','V','N','V','N','V','N','V','N','V','N'];
const annColors = {V:'#008000', N:'#0000ff'};
const annLineColors = {V:'rgba(0,128,0,0.55)', N:'rgba(0,0,255,0.55)'};
const annLineRange = [-2.0, 2.0];

// Axis ranges and grid ticks
const xRange = [0, 20.066];
const yRange = [-2.5, 2.5];
const xGridStep = 0.2;
const yGridTicks = [-2.5,-2.0,-1.5,-1.0,-0.5,0.0,0.5,1.0,1.5,2.0];

const segments = [seg00,seg02,seg04,seg06,seg08,seg10,seg12,seg14,seg16,seg18];
const tracePoints = segments.flat().map(([t,v]) => ({x:t, y:v}));

function fontAvailable(name){
  const c = document.createElement('canvas').getContext('2d');
  c.font = 'bold 40px monospace';
  const a = c.measureText('NVNVNV').width;
  c.font = 'bold 40px "' + name + '", monospace';
  const b = c.measureText('NVNVNV').width;
  return Math.abs(a-b) > 0.5;
}
const hasNarrow = fontAvailable('Liberation Sans Narrow');
const labelFont = hasNarrow ? 'bold 22px "Liberation Sans Narrow"' : 'bold 22px "Liberation Sans", "DejaVu Sans", sans-serif';
const labelScaleX = hasNarrow ? 1 : 0.82;

const beatLabels = {
  id: 'beatLabels',
  afterDatasetsDraw(chart){
    const {ctx, chartArea, scales} = chart;
    ctx.save();
    ctx.font = labelFont;
    ctx.textAlign = 'center';
    ctx.textBaseline = 'alphabetic';
    annTimes.forEach((t,i) => {
      const px = scales.x.getPixelForValue(t);
      ctx.save();
      ctx.translate(px, chartArea.top + 15.2);
      ctx.scale(labelScaleX, 1);
      ctx.fillStyle = annColors[annLabels[i]];
      ctx.fillText(annLabels[i], 0, 0);
      ctx.restore();
    });
    ctx.restore();
  }
};

const vlineSets = annTimes.map((t,i) => ({
  data: [{x:t, y:annLineRange[0]}, {x:t, y:annLineRange[1]}],
  borderColor: annLineColors[annLabels[i]],
  borderWidth: 0.7,
  pointRadius: 0,
  fill: false,
  order: 2
}));

const gridColor = 'rgba(255,0,0,0.25)';

new Chart(document.getElementById('c'), {
  type: 'line',
  data: {
    datasets: [
      {data: tracePoints, borderColor:'#000', borderWidth:1.15, pointRadius:0, tension:0, fill:false, order:0},
      ...vlineSets
    ]
  },
  options: {
    responsive: true,
    maintainAspectRatio: false,
    animation: false,
    devicePixelRatio: 1,
    parsing: false,
    normalized: true,
    layout: {padding: {left:18.6, top:23.9, right:9.5, bottom:21.8}},
    plugins: {legend:{display:false}, tooltip:{enabled:false}},
    events: [],
    scales: {
      x: {
        type: 'linear', min: xRange[0], max: xRange[1],
        afterBuildTicks: s => {
          const ticks = [];
          for (let k = 0; k * xGridStep <= xRange[1] + 1e-9; k++) ticks.push({value: +(k * xGridStep).toFixed(3)});
          s.ticks = ticks;
        },
        ticks: {display:false},
        grid: {color: gridColor, lineWidth: 1.1, drawTicks:false},
        border: {display:false}
      },
      y: {
        type: 'linear', min: yRange[0], max: yRange[1],
        afterBuildTicks: s => { s.ticks = yGridTicks.map(v => ({value:v})); },
        ticks: {display:false},
        grid: {color: gridColor, lineWidth: 1.1, drawTicks:false},
        border: {display:false}
      }
    }
  },
  plugins: [beatLabels]
});
</script>
</body>
</html>
